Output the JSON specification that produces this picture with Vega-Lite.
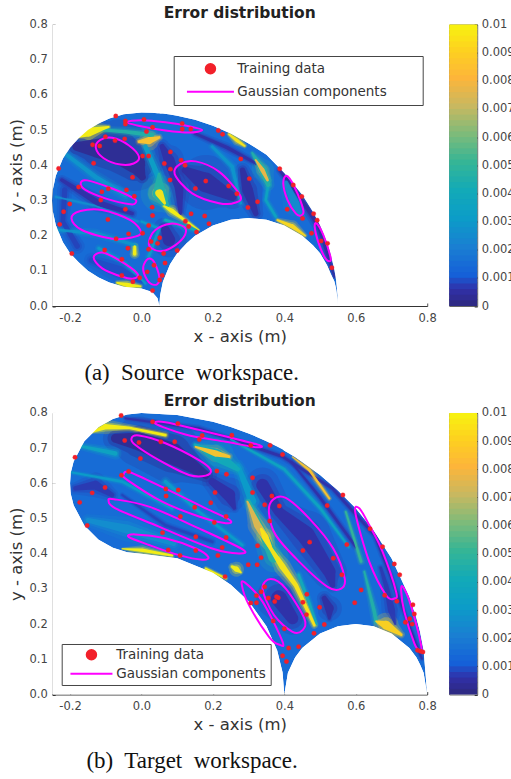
{"$schema":"https://vega.github.io/schema/vega-lite/v6.json","background":"white","padding":{"left":8.2,"top":5.5,"right":0,"bottom":0},
"config":{"font":"DejaVu Sans","view":{"stroke":null},"axis":{"grid":false,"domainColor":"#333","tickColor":"#333","labelColor":"#444","titleColor":"#333","labelFontSize":11.5,"titleFontSize":16.5,"titleFontWeight":"normal","tickSize":-3,"labelPadding":8,"zindex":1,"labelFlush":false}},
"datasets":{
"cb":[{"v":0,"b":0.00025},{"v":0.0002,"b":0.00045},{"v":0.0004,"b":0.00065},{"v":0.0006,"b":0.00085},{"v":0.0008,"b":0.00105},{"v":0.001,"b":0.00125},{"v":0.0012,"b":0.00145},{"v":0.0014,"b":0.00165},{"v":0.0016,"b":0.00185},{"v":0.0018,"b":0.00205},{"v":0.002,"b":0.00225},{"v":0.0022,"b":0.00245},{"v":0.0024,"b":0.00265},{"v":0.0026,"b":0.00285},{"v":0.0028,"b":0.00305},{"v":0.003,"b":0.00325},{"v":0.0032,"b":0.00345},{"v":0.0034,"b":0.00365},{"v":0.0036,"b":0.00385},{"v":0.0038,"b":0.00405},{"v":0.004,"b":0.00425},{"v":0.0042,"b":0.00445},{"v":0.0044,"b":0.00465},{"v":0.0046,"b":0.00485},{"v":0.0048,"b":0.00505},{"v":0.005,"b":0.00525},{"v":0.0052,"b":0.00545},{"v":0.0054,"b":0.00565},{"v":0.0056,"b":0.00585},{"v":0.0058,"b":0.00605},{"v":0.006,"b":0.00625},{"v":0.0062,"b":0.00645},{"v":0.0064,"b":0.00665},{"v":0.0066,"b":0.00685},{"v":0.0068,"b":0.00705},{"v":0.007,"b":0.00725},{"v":0.0072,"b":0.00745},{"v":0.0074,"b":0.00765},{"v":0.0076,"b":0.00785},{"v":0.0078,"b":0.00805},{"v":0.008,"b":0.00825},{"v":0.0082,"b":0.00845},{"v":0.0084,"b":0.00865},{"v":0.0086,"b":0.00885},{"v":0.0088,"b":0.00905},{"v":0.009,"b":0.00925},{"v":0.0092,"b":0.00945},{"v":0.0094,"b":0.00965},{"v":0.0096,"b":0.00985},{"v":0.0098,"b":0.01}],
"o1":[{"x":-0.25,"y":0.3,"y2":0.3,"v":0.0014},{"x":-0.248,"y":0.332,"y2":0.268,"v":0.0014},{"x":-0.24,"y":0.37,"y2":0.23,"v":0.0014},{"x":-0.22,"y":0.419,"y2":0.181,"v":0.0014},{"x":-0.2,"y":0.45,"y2":0.15,"v":0.0014},{"x":-0.176,"y":0.477,"y2":0.124,"v":0.0014},{"x":-0.15,"y":0.5,"y2":0.1,"v":0.0014},{"x":-0.12,"y":0.519,"y2":0.081,"v":0.0014},{"x":-0.09,"y":0.533,"y2":0.067,"v":0.0014},{"x":-0.05,"y":0.545,"y2":0.055,"v":0.0014},{"x":0,"y":0.55,"y2":0.05,"v":0.0014},{"x":0.03,"y":0.549,"y2":0.04,"v":0.0014},{"x":0.045,"y":0.548,"y2":0.022,"v":0.0014},{"x":0.05,"y":0.548,"y2":0,"v":0.0014},{"x":0.052,"y":0.547,"y2":0.03,"v":0.0014},{"x":0.06,"y":0.547,"y2":0.069,"v":0.0014},{"x":0.08,"y":0.544,"y2":0.119,"v":0.0014},{"x":0.1,"y":0.541,"y2":0.15,"v":0.0014},{"x":0.125,"y":0.535,"y2":0.177,"v":0.0014},{"x":0.15,"y":0.529,"y2":0.2,"v":0.0014},{"x":0.2,"y":0.512,"y2":0.229,"v":0.0014},{"x":0.25,"y":0.49,"y2":0.245,"v":0.0014},{"x":0.3,"y":0.462,"y2":0.25,"v":0.0014},{"x":0.35,"y":0.43,"y2":0.245,"v":0.0014},{"x":0.4,"y":0.378,"y2":0.229,"v":0.0014},{"x":0.45,"y":0.316,"y2":0.2,"v":0.0014},{"x":0.48,"y":0.268,"y2":0.173,"v":0.0014},{"x":0.5,"y":0.229,"y2":0.15,"v":0.0014},{"x":0.52,"y":0.18,"y2":0.115,"v":0.0014},{"x":0.53,"y":0.147,"y2":0.092,"v":0.0014},{"x":0.54,"y":0.104,"y2":0.07,"v":0.0014},{"x":0.545,"y":0.074,"y2":0.049,"v":0.0014},{"x":0.549,"y":0.033,"y2":0.018,"v":0.0014},{"x":0.55,"y":0,"y2":0,"v":0.0014},{"x":0.8,"y":0,"y2":0,"v":0.0014}],
"t1":[
{"s":"d1","x":-0.181,"y":0.453,"w":10,"v":0.0002},{"s":"d1","x":-0.12,"y":0.448,"w":22,"v":0.0002},{"s":"d1","x":-0.064,"y":0.438,"w":26,"v":0.0002},{"s":"d1","x":-0.017,"y":0.405,"w":22,"v":0.0002},{"s":"d1","x":0.002,"y":0.367,"w":8,"v":0.0002},
{"s":"d2","x":0.123,"y":0.386,"w":8,"v":0.0004},{"s":"d2","x":0.18,"y":0.351,"w":22,"v":0.0004},{"s":"d2","x":0.254,"y":0.311,"w":10,"v":0.0004},
{"s":"d3","x":0.058,"y":0.453,"w":6,"v":0.0005},{"s":"d3","x":0.077,"y":0.415,"w":12,"v":0.0005},{"s":"d3","x":0.105,"y":0.339,"w":10,"v":0.0005},{"s":"d3","x":0.109,"y":0.263,"w":4,"v":0.0005},
{"s":"d4","x":0.283,"y":0.386,"w":6,"v":0.0004},{"s":"d4","x":0.297,"y":0.33,"w":12,"v":0.0004},{"s":"d4","x":0.32,"y":0.263,"w":6,"v":0.0004},
{"s":"d5","x":-0.223,"y":0.358,"w":4,"v":0.0005},{"s":"d5","x":-0.12,"y":0.292,"w":7,"v":0.0005},{"s":"d5","x":-0.026,"y":0.263,"w":4,"v":0.0005},
{"s":"d6","x":0.067,"y":0.216,"w":10,"v":0.0004},{"s":"d6","x":0.077,"y":0.188,"w":14,"v":0.0004},
{"s":"d7","x":0.387,"y":0.386,"w":3,"v":0.0004},{"s":"d7","x":0.442,"y":0.311,"w":4,"v":0.0004},{"s":"d7","x":0.498,"y":0.225,"w":5,"v":0.0004},{"s":"d7","x":0.54,"y":0.083,"w":2,"v":0.0004},
{"s":"d8","x":-0.215,"y":0.33,"w":6,"v":0.0007},{"s":"d8","x":-0.22,"y":0.24,"w":5,"v":0.0007},{"s":"d8","x":-0.18,"y":0.17,"w":6,"v":0.0007},
{"s":"d9","x":-0.14,"y":0.13,"w":6,"v":0.0008},{"s":"d9","x":-0.06,"y":0.1,"w":10,"v":0.0008},{"s":"d9","x":0,"y":0.07,"w":3,"v":0.0008},
{"s":"d10","x":0.15,"y":0.49,"w":3,"v":0.0005},{"s":"d10","x":0.24,"y":0.45,"w":4,"v":0.0005},{"s":"d10","x":0.33,"y":0.4,"w":3,"v":0.0005},
{"s":"c1","x":-0.209,"y":0.429,"w":4,"v":0.0028},{"s":"c1","x":-0.129,"y":0.367,"w":5,"v":0.0028},{"s":"c1","x":-0.045,"y":0.315,"w":5,"v":0.0028},{"s":"c1","x":0.021,"y":0.273,"w":4,"v":0.0035},
{"s":"c2","x":-0.232,"y":0.216,"w":3,"v":0.0028},{"s":"c2","x":-0.129,"y":0.206,"w":4,"v":0.0028},{"s":"c2","x":-0.017,"y":0.173,"w":3,"v":0.0028},
{"s":"c3","x":-0.12,"y":0.164,"w":3,"v":0.003},{"s":"c3","x":-0.045,"y":0.121,"w":3,"v":0.003},{"s":"c3","x":0.011,"y":0.064,"w":2,"v":0.003},
{"s":"c4","x":0.011,"y":0.453,"w":5,"v":0.0032},{"s":"c4","x":0.039,"y":0.386,"w":6,"v":0.0032},{"s":"c4","x":0.067,"y":0.311,"w":4,"v":0.0032},
{"s":"c5","x":0.198,"y":0.453,"w":3,"v":0.0028},{"s":"c5","x":0.254,"y":0.396,"w":4,"v":0.0028},{"s":"c5","x":0.278,"y":0.292,"w":3,"v":0.0028},
{"s":"c6","x":0.067,"y":0.244,"w":3,"v":0.004},{"s":"c6","x":0.152,"y":0.216,"w":3,"v":0.004},
{"s":"c7","x":0.357,"y":0.358,"w":3,"v":0.0035},{"s":"c7","x":0.348,"y":0.301,"w":3,"v":0.0035},{"s":"c7","x":0.376,"y":0.254,"w":3,"v":0.0035},
{"s":"c8","x":0.405,"y":0.35,"w":5,"v":0.0024},{"s":"c8","x":0.43,"y":0.29,"w":10,"v":0.0024},{"s":"c8","x":0.445,"y":0.26,"w":4,"v":0.0024},
{"s":"c9","x":-0.24,"y":0.31,"w":2,"v":0.0025},{"s":"c9","x":-0.13,"y":0.285,"w":2,"v":0.0025},{"s":"c9","x":-0.01,"y":0.24,"w":2,"v":0.0025},
{"s":"c10","x":0,"y":0.24,"w":2,"v":0.003},{"s":"c10","x":0.05,"y":0.22,"w":3,"v":0.003},{"s":"c10","x":0.02,"y":0.14,"w":3,"v":0.003},
{"s":"t1","x":-0.129,"y":0.502,"w":3,"v":0.0045},{"s":"t1","x":-0.045,"y":0.495,"w":4,"v":0.0045},{"s":"t1","x":0.03,"y":0.486,"w":5,"v":0.0045},{"s":"t1","x":0.123,"y":0.49,"w":3,"v":0.0035},
{"s":"t2","x":0.049,"y":0.375,"w":3,"v":0.0045},{"s":"t2","x":0.05,"y":0.32,"w":15,"v":0.0045},{"s":"t2","x":0.07,"y":0.285,"w":6,"v":0.0045},
{"s":"t3","x":0.31,"y":0.435,"w":2,"v":0.0045},{"s":"t3","x":0.34,"y":0.386,"w":9,"v":0.0045},{"s":"t3","x":0.355,"y":0.345,"w":5,"v":0.0045},
{"s":"y1","x":-0.176,"y":0.479,"w":1,"v":0.0098},{"s":"y1","x":-0.148,"y":0.494,"w":10,"v":0.0098},{"s":"y1","x":-0.092,"y":0.509,"w":2,"v":0.0098},
{"s":"y2","x":-0.007,"y":0.467,"w":3,"v":0.0085},{"s":"y2","x":0.021,"y":0.47,"w":8,"v":0.0085},{"s":"y2","x":0.049,"y":0.479,"w":3,"v":0.0085},
{"s":"y3","x":0.049,"y":0.353,"w":5,"v":0.0078},{"s":"y3","x":0.05,"y":0.32,"w":9,"v":0.0095},{"s":"y3","x":0.065,"y":0.292,"w":3,"v":0.0095},
{"s":"y4","x":0.063,"y":0.284,"w":2,"v":0.0098},{"s":"y4","x":0.086,"y":0.27,"w":5,"v":0.0098},{"s":"y4","x":0.114,"y":0.249,"w":3,"v":0.0098},{"s":"y4","x":0.161,"y":0.216,"w":1,"v":0.0098},
{"s":"y5","x":0.245,"y":0.488,"w":2,"v":0.0095},{"s":"y5","x":0.268,"y":0.47,"w":4,"v":0.0095},{"s":"y5","x":0.289,"y":0.455,"w":2,"v":0.0095},
{"s":"y6","x":0.32,"y":0.415,"w":2,"v":0.0078},{"s":"y6","x":0.339,"y":0.386,"w":5,"v":0.0078},{"s":"y6","x":0.353,"y":0.358,"w":3,"v":0.0078},
{"s":"y7","x":0.381,"y":0.244,"w":2,"v":0.0092},{"s":"y7","x":0.423,"y":0.226,"w":5,"v":0.0092},{"s":"y7","x":0.458,"y":0.2,"w":2,"v":0.0092},
{"s":"y8","x":-0.068,"y":0.066,"w":2,"v":0.0098},{"s":"y8","x":-0.04,"y":0.06,"w":5,"v":0.0098},{"s":"y8","x":-0.003,"y":0.056,"w":2,"v":0.0098},
{"s":"y9","x":-0.019,"y":0.169,"w":3,"v":0.0098},{"s":"y9","x":-0.019,"y":0.148,"w":4,"v":0.0098},
{"s":"y10","x":0.538,"y":0.074,"w":1,"v":0.0085},{"s":"y10","x":0.549,"y":0.017,"w":2,"v":0.0095}],
"e1":[
{"c":"e1","x":-0.042,"y":0.523},{"c":"e1","x":0.002,"y":0.528},{"c":"e1","x":0.067,"y":0.522},{"c":"e1","x":0.133,"y":0.511},{"c":"e1","x":0.17,"y":0.5},{"c":"e1","x":0.133,"y":0.493},{"c":"e1","x":0.067,"y":0.499},{"c":"e1","x":0.002,"y":0.51},
{"c":"e2","x":-0.128,"y":0.45},{"c":"e2","x":-0.115,"y":0.472},{"c":"e2","x":-0.082,"y":0.478},{"c":"e2","x":-0.036,"y":0.457},{"c":"e2","x":-0.007,"y":0.424},{"c":"e2","x":-0.022,"y":0.405},{"c":"e2","x":-0.059,"y":0.402},{"c":"e2","x":-0.106,"y":0.42},
{"c":"e3","x":0.093,"y":0.375},{"c":"e3","x":0.109,"y":0.404},{"c":"e3","x":0.152,"y":0.411},{"c":"e3","x":0.217,"y":0.382},{"c":"e3","x":0.276,"y":0.315},{"c":"e3","x":0.264,"y":0.294},{"c":"e3","x":0.217,"y":0.292},{"c":"e3","x":0.142,"y":0.32},
{"c":"e4","x":0.397,"y":0.348},{"c":"e4","x":0.406,"y":0.37},{"c":"e4","x":0.428,"y":0.339},{"c":"e4","x":0.453,"y":0.273},{"c":"e4","x":0.446,"y":0.257},{"c":"e4","x":0.432,"y":0.263},{"c":"e4","x":0.409,"y":0.301},
{"c":"e5","x":0.485,"y":0.225},{"c":"e5","x":0.49,"y":0.235},{"c":"e5","x":0.509,"y":0.202},{"c":"e5","x":0.529,"y":0.14},{"c":"e5","x":0.526,"y":0.127},{"c":"e5","x":0.512,"y":0.14},{"c":"e5","x":0.493,"y":0.188},
{"c":"e6","x":-0.17,"y":0.35},{"c":"e6","x":-0.152,"y":0.357},{"c":"e6","x":-0.082,"y":0.334},{"c":"e6","x":-0.022,"y":0.306},{"c":"e6","x":-0.016,"y":0.294},{"c":"e6","x":-0.031,"y":0.289},{"c":"e6","x":-0.101,"y":0.306},{"c":"e6","x":-0.157,"y":0.33},
{"c":"e7","x":-0.196,"y":0.249},{"c":"e7","x":-0.171,"y":0.27},{"c":"e7","x":-0.11,"y":0.273},{"c":"e7","x":-0.031,"y":0.244},{"c":"e7","x":-0.001,"y":0.209},{"c":"e7","x":-0.026,"y":0.195},{"c":"e7","x":-0.082,"y":0.191},{"c":"e7","x":-0.167,"y":0.216},
{"c":"e8","x":0.021,"y":0.183},{"c":"e8","x":0.039,"y":0.216},{"c":"e8","x":0.081,"y":0.234},{"c":"e8","x":0.119,"y":0.225},{"c":"e8","x":0.122,"y":0.202},{"c":"e8","x":0.095,"y":0.173},{"c":"e8","x":0.058,"y":0.156},{"c":"e8","x":0.028,"y":0.164},
{"c":"e9","x":-0.134,"y":0.138},{"c":"e9","x":-0.11,"y":0.152},{"c":"e9","x":-0.064,"y":0.131},{"c":"e9","x":-0.012,"y":0.093},{"c":"e9","x":-0.022,"y":0.078},{"c":"e9","x":-0.054,"y":0.083},{"c":"e9","x":-0.11,"y":0.107},
{"c":"e10","x":0.005,"y":0.112},{"c":"e10","x":0.018,"y":0.134},{"c":"e10","x":0.035,"y":0.126},{"c":"e10","x":0.05,"y":0.083},{"c":"e10","x":0.044,"y":0.062},{"c":"e10","x":0.025,"y":0.064},{"c":"e10","x":0.009,"y":0.088}],
"p1":[{"x":-0.072,"y":0.54},{"x":-0.045,"y":0.526},{"x":-0.045,"y":0.517},{"x":0.007,"y":0.53},{"x":0.114,"y":0.519},{"x":0.031,"y":0.508},{"x":0.114,"y":0.503},{"x":0.138,"y":0.503},{"x":0.014,"y":0.496},{"x":0.215,"y":0.499},{"x":0.227,"y":0.488},{"x":-0.101,"y":0.481},{"x":-0.047,"y":0.475},{"x":-0.074,"y":0.47},{"x":-0.137,"y":0.458},{"x":-0.117,"y":0.455},{"x":0.003,"y":0.426},{"x":0.02,"y":0.426},{"x":0.081,"y":0.438},{"x":0.111,"y":0.414},{"x":0.122,"y":0.4},{"x":0.064,"y":0.405},{"x":0.081,"y":0.389},{"x":0.08,"y":0.358},{"x":-0.134,"y":0.406},{"x":-0.232,"y":0.391},{"x":-0.025,"y":0.366},{"x":0.278,"y":0.418},{"x":0.302,"y":0.362},{"x":0.387,"y":0.39},{"x":0.425,"y":0.344},{"x":0.449,"y":0.311},{"x":0.18,"y":0.355},{"x":0.151,"y":0.334},{"x":0.244,"y":0.341},{"x":0.267,"y":0.319},{"x":0.325,"y":0.296},{"x":0.298,"y":0.28},{"x":0.408,"y":0.275},{"x":0.451,"y":0.249},{"x":0.482,"y":0.262},{"x":0.492,"y":0.244},{"x":0.476,"y":0.207},{"x":0.503,"y":0.185},{"x":0.521,"y":0.178},{"x":0.533,"y":0.109},{"x":-0.176,"y":0.338},{"x":-0.111,"y":0.325},{"x":-0.093,"y":0.333},{"x":-0.042,"y":0.33},{"x":-0.02,"y":0.312},{"x":-0.114,"y":0.301},{"x":-0.201,"y":0.29},{"x":-0.218,"y":0.268},{"x":-0.045,"y":0.275},{"x":0.03,"y":0.281},{"x":0.031,"y":0.257},{"x":0.139,"y":0.262},{"x":0.177,"y":0.256},{"x":0.189,"y":0.234},{"x":0.123,"y":0.241},{"x":0.132,"y":0.226},{"x":0.154,"y":0.21},{"x":-0.094,"y":0.246},{"x":-0.229,"y":0.232},{"x":0.02,"y":0.229},{"x":-0.036,"y":0.205},{"x":0.003,"y":0.207},{"x":-0.071,"y":0.191},{"x":0.051,"y":0.194},{"x":0.045,"y":0.178},{"x":0.027,"y":0.183},{"x":0.02,"y":0.161},{"x":-0.103,"y":0.159},{"x":-0.038,"y":0.164},{"x":-0.195,"y":0.149},{"x":0.062,"y":0.149},{"x":0.1,"y":0.158},{"x":0.035,"y":0.116},{"x":0.066,"y":0.122},{"x":-0.055,"y":0.133},{"x":0.016,"y":0.097},{"x":0.058,"y":0.087},{"x":-0.055,"y":0.087},{"x":-0.005,"y":0.08},{"x":-0.024,"y":0.069},{"x":0.051,"y":0.074},{"x":0.031,"y":0.044}],
"o2":[{"x":-0.25,"y":0.6,"y2":0.6,"v":0.0014},{"x":-0.2,"y":0.6,"y2":0.6,"v":0.0014},{"x":-0.198,"y":0.63,"y2":0.57,"v":0.0014},{"x":-0.19,"y":0.662,"y2":0.538,"v":0.0014},{"x":-0.16,"y":0.72,"y2":0.48,"v":0.0014},{"x":-0.12,"y":0.76,"y2":0.44,"v":0.0014},{"x":-0.08,"y":0.783,"y2":0.417,"v":0.0014},{"x":-0.04,"y":0.796,"y2":0.404,"v":0.0014},{"x":0,"y":0.8,"y2":0.4,"v":0.0014},{"x":0.1,"y":0.794,"y2":0.387,"v":0.0014},{"x":0.2,"y":0.775,"y2":0.346,"v":0.0014},{"x":0.25,"y":0.76,"y2":0.312,"v":0.0014},{"x":0.3,"y":0.742,"y2":0.265,"v":0.0014},{"x":0.35,"y":0.72,"y2":0.194,"v":0.0014},{"x":0.38,"y":0.705,"y2":0.125,"v":0.0014},{"x":0.395,"y":0.697,"y2":0.063,"v":0.0014},{"x":0.4,"y":0.693,"y2":0,"v":0.0014},{"x":0.41,"y":0.687,"y2":0.062,"v":0.0014},{"x":0.43,"y":0.675,"y2":0.105,"v":0.0014},{"x":0.45,"y":0.661,"y2":0.132,"v":0.0014},{"x":0.5,"y":0.624,"y2":0.173,"v":0.0014},{"x":0.55,"y":0.58,"y2":0.194,"v":0.0014},{"x":0.6,"y":0.529,"y2":0.2,"v":0.0014},{"x":0.65,"y":0.466,"y2":0.194,"v":0.0014},{"x":0.7,"y":0.387,"y2":0.173,"v":0.0014},{"x":0.75,"y":0.278,"y2":0.132,"v":0.0014},{"x":0.77,"y":0.217,"y2":0.105,"v":0.0014},{"x":0.78,"y":0.178,"y2":0.085,"v":0.0014},{"x":0.79,"y":0.126,"y2":0.062,"v":0.0014},{"x":0.8,"y":0,"y2":0,"v":0.0014}],
"t2":[
{"s":"d1","x":-0.073,"y":0.728,"w":10,"v":0.0002},{"s":"d1","x":-0.007,"y":0.719,"w":20,"v":0.0002},{"s":"d1","x":0.086,"y":0.685,"w":24,"v":0.0002},{"s":"d1","x":0.18,"y":0.624,"w":9,"v":0.0002},
{"s":"d2","x":0.198,"y":0.605,"w":8,"v":0.0005},{"s":"d2","x":0.245,"y":0.567,"w":14,"v":0.0005},{"s":"d2","x":0.26,"y":0.53,"w":4,"v":0.0005},
{"s":"d3","x":0.339,"y":0.595,"w":14,"v":0.0005},{"s":"d3","x":0.385,"y":0.519,"w":11,"v":0.0005},{"s":"d3","x":0.46,"y":0.453,"w":20,"v":0.0005},{"s":"d3","x":0.526,"y":0.349,"w":14,"v":0.0005},{"s":"d3","x":0.535,"y":0.311,"w":6,"v":0.0005},
{"s":"d4","x":0.385,"y":0.273,"w":18,"v":0.0005},{"s":"d4","x":0.423,"y":0.216,"w":13,"v":0.0005},
{"s":"d5","x":0.512,"y":0.273,"w":6,"v":0.0004},{"s":"d5","x":0.526,"y":0.245,"w":10,"v":0.0004},{"s":"d5","x":0.526,"y":0.216,"w":3,"v":0.0004},
{"s":"d6","x":-0.045,"y":0.785,"w":2,"v":0.0005},{"s":"d6","x":0.161,"y":0.756,"w":3,"v":0.0005},{"s":"d6","x":0.395,"y":0.676,"w":3,"v":0.0005},{"s":"d6","x":0.535,"y":0.585,"w":3,"v":0.0005},{"s":"d6","x":0.655,"y":0.45,"w":3,"v":0.0005},{"s":"d6","x":0.785,"y":0.102,"w":2,"v":0.0005},
{"s":"d7","x":-0.185,"y":0.586,"w":5,"v":0.0006},{"s":"d7","x":-0.129,"y":0.595,"w":10,"v":0.0006},{"s":"d7","x":-0.082,"y":0.567,"w":5,"v":0.0006},
{"s":"d8","x":-0.054,"y":0.567,"w":2,"v":0.0007},{"s":"d8","x":0.067,"y":0.481,"w":3,"v":0.0007},{"s":"d8","x":0.198,"y":0.434,"w":3,"v":0.0007},
{"s":"d9","x":0.67,"y":0.36,"w":3,"v":0.0006},{"s":"d9","x":0.685,"y":0.309,"w":5,"v":0.0006},{"s":"d9","x":0.7,"y":0.24,"w":8,"v":0.0006},{"s":"d9","x":0.71,"y":0.2,"w":2,"v":0.0006},
{"s":"d10","x":0.42,"y":0.66,"w":2,"v":0.0005},{"s":"d10","x":0.5,"y":0.56,"w":3,"v":0.0005},{"s":"d10","x":0.6,"y":0.42,"w":3,"v":0.0005},
{"s":"c1","x":-0.176,"y":0.707,"w":3,"v":0.0035},{"s":"c1","x":-0.073,"y":0.685,"w":5,"v":0.0035},{"s":"c1","x":0.067,"y":0.605,"w":4,"v":0.003},{"s":"c1","x":0.161,"y":0.519,"w":3,"v":0.003},{"s":"c1","x":0.282,"y":0.425,"w":3,"v":0.003},
{"s":"c2","x":-0.195,"y":0.631,"w":2,"v":0.003},{"s":"c2","x":-0.054,"y":0.605,"w":3,"v":0.003},{"s":"c2","x":0.086,"y":0.529,"w":3,"v":0.003},{"s":"c2","x":0.198,"y":0.425,"w":3,"v":0.0035},{"s":"c2","x":0.254,"y":0.368,"w":3,"v":0.004},
{"s":"c3","x":-0.15,"y":0.495,"w":5,"v":0.0025},{"s":"c3","x":-0.04,"y":0.47,"w":10,"v":0.0025},{"s":"c3","x":0.09,"y":0.43,"w":6,"v":0.0025},
{"s":"c4","x":0.27,"y":0.65,"w":5,"v":0.003},{"s":"c4","x":0.31,"y":0.55,"w":9,"v":0.003},{"s":"c4","x":0.36,"y":0.47,"w":9,"v":0.0035},
{"s":"c5","x":0.44,"y":0.34,"w":3,"v":0.004},{"s":"c5","x":0.47,"y":0.26,"w":3,"v":0.004},{"s":"c5","x":0.49,"y":0.2,"w":2,"v":0.004},
{"s":"c6","x":0.25,"y":0.725,"w":2,"v":0.0035},{"s":"c6","x":0.4,"y":0.64,"w":3,"v":0.0035},{"s":"c6","x":0.5,"y":0.53,"w":3,"v":0.0035},{"s":"c6","x":0.58,"y":0.42,"w":2,"v":0.0035},
{"s":"t1","x":0.572,"y":0.519,"w":2,"v":0.005},{"s":"t1","x":0.591,"y":0.463,"w":3,"v":0.0075},{"s":"t1","x":0.615,"y":0.378,"w":3,"v":0.005},{"s":"t1","x":0.629,"y":0.311,"w":2,"v":0.004},
{"s":"t2","x":0.624,"y":0.349,"w":2,"v":0.0045},{"s":"t2","x":0.652,"y":0.235,"w":4,"v":0.0045},{"s":"t2","x":0.657,"y":0.207,"w":4,"v":0.0045},
{"s":"t3","x":0.47,"y":0.63,"w":3,"v":0.0045},{"s":"t3","x":0.545,"y":0.52,"w":3,"v":0.005},{"s":"t3","x":0.595,"y":0.44,"w":2,"v":0.004},
{"s":"t4","x":0.15,"y":0.71,"w":3,"v":0.004},{"s":"t4","x":0.21,"y":0.68,"w":14,"v":0.004},{"s":"t4","x":0.27,"y":0.64,"w":5,"v":0.004},
{"s":"t5","x":0.3,"y":0.55,"w":4,"v":0.0045},{"s":"t5","x":0.33,"y":0.47,"w":15,"v":0.005},{"s":"t5","x":0.37,"y":0.39,"w":12,"v":0.0045},{"s":"t5","x":0.43,"y":0.31,"w":8,"v":0.004},
{"s":"y1","x":-0.141,"y":0.744,"w":1,"v":0.0098},{"s":"y1","x":-0.101,"y":0.761,"w":6,"v":0.0098},{"s":"y1","x":-0.036,"y":0.758,"w":3,"v":0.0098},{"s":"y1","x":0.067,"y":0.737,"w":3,"v":0.0098},
{"s":"y2","x":0.152,"y":0.704,"w":2,"v":0.0085},{"s":"y2","x":0.208,"y":0.685,"w":7,"v":0.0085},{"s":"y2","x":0.245,"y":0.676,"w":3,"v":0.0085},
{"s":"y3","x":0.423,"y":0.675,"w":1,"v":0.0085},{"s":"y3","x":0.47,"y":0.638,"w":3,"v":0.0085},{"s":"y3","x":0.526,"y":0.557,"w":2,"v":0.0085},
{"s":"y4","x":0.297,"y":0.548,"w":2,"v":0.0075},{"s":"y4","x":0.325,"y":0.481,"w":8,"v":0.0075},{"s":"y4","x":0.346,"y":0.448,"w":8,"v":0.0075},{"s":"y4","x":0.362,"y":0.415,"w":4,"v":0.0075},
{"s":"y5","x":0.335,"y":0.47,"w":3,"v":0.0095},{"s":"y5","x":0.346,"y":0.448,"w":7,"v":0.0095},{"s":"y5","x":0.362,"y":0.415,"w":4,"v":0.0095},{"s":"y5","x":0.395,"y":0.363,"w":7,"v":0.0095},{"s":"y5","x":0.432,"y":0.311,"w":5,"v":0.0095},{"s":"y5","x":0.484,"y":0.197,"w":3,"v":0.0095},
{"s":"y6","x":0.254,"y":0.363,"w":3,"v":0.0098},{"s":"y6","x":0.266,"y":0.356,"w":6,"v":0.0098},{"s":"y6","x":0.278,"y":0.347,"w":2,"v":0.0098},
{"s":"y7","x":-0.054,"y":0.414,"w":1,"v":0.0098},{"s":"y7","x":0.002,"y":0.41,"w":4,"v":0.0098},{"s":"y7","x":0.086,"y":0.395,"w":2,"v":0.0098},
{"s":"y8","x":0.18,"y":0.358,"w":2,"v":0.0098},{"s":"y8","x":0.236,"y":0.33,"w":2,"v":0.0098},
{"s":"y9","x":0.657,"y":0.208,"w":2,"v":0.009},{"s":"y9","x":0.685,"y":0.197,"w":10,"v":0.009},{"s":"y9","x":0.727,"y":0.17,"w":3,"v":0.009}],
"e2":[
{"c":"f1","x":0.039,"y":0.77},{"c":"f1","x":0.067,"y":0.774},{"c":"f1","x":0.161,"y":0.752},{"c":"f1","x":0.254,"y":0.729},{"c":"f1","x":0.332,"y":0.708},{"c":"f1","x":0.32,"y":0.703},{"c":"f1","x":0.236,"y":0.718},{"c":"f1","x":0.123,"y":0.739},
{"c":"f2","x":-0.028,"y":0.728},{"c":"f2","x":-0.007,"y":0.736},{"c":"f2","x":0.067,"y":0.714},{"c":"f2","x":0.161,"y":0.666},{"c":"f2","x":0.194,"y":0.638},{"c":"f2","x":0.18,"y":0.622},{"c":"f2","x":0.133,"y":0.624},{"c":"f2","x":0.049,"y":0.666},{"c":"f2","x":-0.017,"y":0.709},
{"c":"f3","x":-0.05,"y":0.625},{"c":"f3","x":-0.031,"y":0.631},{"c":"f3","x":0.067,"y":0.585},{"c":"f3","x":0.18,"y":0.529},{"c":"f3","x":0.247,"y":0.496},{"c":"f3","x":0.236,"y":0.487},{"c":"f3","x":0.161,"y":0.506},{"c":"f3","x":0.058,"y":0.548},{"c":"f3","x":-0.04,"y":0.61},
{"c":"f4","x":-0.092,"y":0.551},{"c":"f4","x":-0.077,"y":0.555},{"c":"f4","x":0.021,"y":0.534},{"c":"f4","x":0.161,"y":0.472},{"c":"f4","x":0.282,"y":0.413},{"c":"f4","x":0.273,"y":0.401},{"c":"f4","x":0.198,"y":0.415},{"c":"f4","x":0.049,"y":0.477},{"c":"f4","x":-0.073,"y":0.529},
{"c":"f5","x":-0.036,"y":0.448},{"c":"f5","x":-0.017,"y":0.455},{"c":"f5","x":0.067,"y":0.444},{"c":"f5","x":0.152,"y":0.415},{"c":"f5","x":0.187,"y":0.391},{"c":"f5","x":0.17,"y":0.383},{"c":"f5","x":0.105,"y":0.396},{"c":"f5","x":0.021,"y":0.425},
{"c":"f6","x":0.357,"y":0.515},{"c":"f6","x":0.367,"y":0.553},{"c":"f6","x":0.404,"y":0.559},{"c":"f6","x":0.47,"y":0.5},{"c":"f6","x":0.537,"y":0.415},{"c":"f6","x":0.569,"y":0.33},{"c":"f6","x":0.558,"y":0.3},{"c":"f6","x":0.521,"y":0.306},{"c":"f6","x":0.442,"y":0.377},{"c":"f6","x":0.376,"y":0.453},
{"c":"f7","x":0.599,"y":0.515},{"c":"f7","x":0.61,"y":0.529},{"c":"f7","x":0.638,"y":0.481},{"c":"f7","x":0.675,"y":0.406},{"c":"f7","x":0.713,"y":0.292},{"c":"f7","x":0.708,"y":0.273},{"c":"f7","x":0.685,"y":0.282},{"c":"f7","x":0.638,"y":0.377},
{"c":"f8","x":0.727,"y":0.296},{"c":"f8","x":0.733,"y":0.305},{"c":"f8","x":0.754,"y":0.254},{"c":"f8","x":0.783,"y":0.14},{"c":"f8","x":0.778,"y":0.126},{"c":"f8","x":0.764,"y":0.145},{"c":"f8","x":0.736,"y":0.235},
{"c":"f9","x":0.281,"y":0.311},{"c":"f9","x":0.29,"y":0.318},{"c":"f9","x":0.339,"y":0.264},{"c":"f9","x":0.395,"y":0.15},{"c":"f9","x":0.385,"y":0.142},{"c":"f9","x":0.357,"y":0.164},{"c":"f9","x":0.301,"y":0.254},
{"c":"f10","x":0.339,"y":0.301},{"c":"f10","x":0.362,"y":0.328},{"c":"f10","x":0.404,"y":0.301},{"c":"f10","x":0.456,"y":0.216},{"c":"f10","x":0.451,"y":0.183},{"c":"f10","x":0.423,"y":0.178},{"c":"f10","x":0.371,"y":0.226}],
"p2":[{"x":-0.057,"y":0.793},{"x":0.031,"y":0.775},{"x":0.102,"y":0.77},{"x":0.253,"y":0.737},{"x":0.17,"y":0.736},{"x":0.162,"y":0.725},{"x":0.306,"y":0.708},{"x":0.36,"y":0.708},{"x":0.395,"y":0.682},{"x":-0.047,"y":0.722},{"x":-0.007,"y":0.716},{"x":0.054,"y":0.718},{"x":0.093,"y":0.718},{"x":-0.003,"y":0.671},{"x":-0.186,"y":0.674},{"x":0.211,"y":0.635},{"x":0.238,"y":0.626},{"x":0.311,"y":0.616},{"x":-0.036,"y":0.634},{"x":-0.056,"y":0.623},{"x":-0.102,"y":0.588},{"x":-0.138,"y":0.573},{"x":-0.173,"y":0.546},{"x":0.068,"y":0.584},{"x":0.069,"y":0.564},{"x":0.103,"y":0.581},{"x":0.206,"y":0.574},{"x":0.311,"y":0.574},{"x":0.365,"y":0.564},{"x":0.194,"y":0.545},{"x":0.149,"y":0.532},{"x":0.345,"y":0.539},{"x":0.386,"y":0.536},{"x":0.52,"y":0.537},{"x":0.564,"y":0.567},{"x":0.109,"y":0.506},{"x":0.237,"y":0.506},{"x":0.204,"y":0.489},{"x":0.359,"y":0.493},{"x":-0.152,"y":0.48},{"x":0.64,"y":0.471},{"x":0.059,"y":0.46},{"x":0.152,"y":0.448},{"x":0.237,"y":0.446},{"x":0.471,"y":0.433},{"x":0.575,"y":0.426},{"x":0.675,"y":0.42},{"x":0.226,"y":0.418},{"x":0.325,"y":0.423},{"x":0.452,"y":0.409},{"x":0.075,"y":0.411},{"x":0.152,"y":0.409},{"x":0.108,"y":0.395},{"x":0.214,"y":0.395},{"x":0.335,"y":0.389},{"x":0.537,"y":0.387},{"x":0.299,"y":0.369},{"x":0.324,"y":0.369},{"x":0.708,"y":0.371},{"x":0.723,"y":0.34},{"x":0.561,"y":0.34},{"x":0.234,"y":0.335},{"x":0.615,"y":0.297},{"x":0.345,"y":0.306},{"x":0.335,"y":0.292},{"x":0.463,"y":0.285},{"x":0.322,"y":0.281},{"x":0.378,"y":0.278},{"x":0.383,"y":0.275},{"x":0.355,"y":0.274},{"x":0.681,"y":0.282},{"x":0.715,"y":0.265},{"x":0.597,"y":0.261},{"x":0.452,"y":0.262},{"x":0.373,"y":0.264},{"x":0.306,"y":0.26},{"x":0.322,"y":0.261},{"x":0.499,"y":0.248},{"x":0.76,"y":0.255},{"x":0.462,"y":0.227},{"x":0.764,"y":0.229},{"x":0.751,"y":0.215},{"x":0.739,"y":0.205},{"x":0.758,"y":0.2},{"x":0.512,"y":0.199},{"x":0.369,"y":0.209},{"x":0.4,"y":0.187},{"x":0.483,"y":0.174},{"x":0.412,"y":0.132},{"x":0.44,"y":0.136},{"x":0.395,"y":0.11},{"x":0.406,"y":0.094},{"x":0.773,"y":0.126},{"x":0.781,"y":0.123},{"x":0.788,"y":0.121}]
},
"spacing":8.5,
"resolve":{"legend":{"stroke":"independent"}},
"vconcat":[
{"title":{"text":"(a)\u00a0 Source\u00a0 workspace.","orient":"bottom","anchor":"start","font":"Liberation Serif","fontSize":22.8,"fontWeight":"normal","color":"#111","dx":75.5,"offset":17},
"bounds":"flush","spacing":22,"resolve":{"legend":{"stroke":"independent"}},
"hconcat":[{"title":{"text":"Error distribution","fontSize":15.5,"fontWeight":"bold","color":"#222","offset":-2.5},"width":375,"height":281.5,
"encoding":{"x":{"field":"x","type":"quantitative","title":"x - axis (m)","scale":{"domain":[-0.25,0.8],"nice":false,"zero":false},"axis":{"values":[-0.2,0,0.2,0.4,0.6,0.8],"labelPadding":9,"titlePadding":5,"labelExpr":"replace(datum.label,'−','-')"}},"y":{"field":"y","type":"quantitative","title":"y - axis (m)","scale":{"domain":[0,0.8],"nice":false},"axis":{"values":[0,0.1,0.2,0.3,0.4,0.5,0.6,0.7,0.8]}}},
"layer":[
{"encoding":{"color":{"field":"v","type":"quantitative","scale":{"interpolate":"rgb","domain":[0,0.0005,0.001,0.002,0.003,0.004,0.005,0.006,0.007,0.008,0.009,0.01],"range":["#2e2a85","#3030a8","#1560d8","#1a7fd2","#0c9cc8","#12aab8","#35b596","#7dbb7a","#c8b860","#fdb53a","#fdd21f","#f7f70e"]},"legend":null}},
"resolve":{"scale":{"size":"independent"}},
"layer":[
{"mark":{"type":"area","order":null},"data":{"name":"o1"},"encoding":{"y2":{"field":"y2"}}},
{"mark":{"type":"trail","order":null,"opacity":0.2},"data":{"name":"t1"},"encoding":{"detail":{"field":"s"},"size":{"field":"w","type":"quantitative","scale":{"domain":[0,30],"range":[0,75]},"legend":null}}},
{"mark":{"type":"trail","order":null,"opacity":0.35},"data":{"name":"t1"},"encoding":{"detail":{"field":"s"},"size":{"field":"w","type":"quantitative","scale":{"domain":[0,30],"range":[0,48]},"legend":null}}},
{"mark":{"type":"trail","order":null,"opacity":0.95},"data":{"name":"t1"},"encoding":{"detail":{"field":"s"},"size":{"field":"w","type":"quantitative","scale":{"domain":[0,30],"range":[0,27]},"legend":null}}}]},
{"mark":{"type":"area","order":null,"fill":"white"},"data":{"name":"o1"},"encoding":{"y2":{"datum":0.8}}},
{"mark":{"type":"area","order":null,"fill":"white"},"data":{"name":"o1"},"encoding":{"y":{"datum":0},"y2":{"field":"y2"}}},
{"mark":{"type":"line","order":null,"interpolate":"cardinal-closed","strokeWidth":2},"data":{"name":"e1"},"encoding":{"detail":{"field":"c"},"stroke":{"datum":"Gaussian components","scale":{"domain":["Training data","Gaussian components"],"range":["#f2202a","#ff00ff"]}}}},
{"mark":{"type":"point","filled":true,"size":20,"fill":"#f2202a","strokeWidth":0.3,"opacity":1},"data":{"name":"p1"},
"encoding":{"stroke":{"datum":"Training data","scale":{"domain":["Training data","Gaussian components"],"range":["#f2202a","#ff00ff"]},"legend":{"title":null,"orient":"none","legendX":121.5,"legendY":31.5,"strokeColor":"#444","padding":6,"fillColor":"white","symbolSize":100,"symbolOffset":24,"rowPadding":6,"labelOffset":20,"labelLimit":220,"labelFontSize":13.5,"labelColor":"#333","labelExpr":"datum.label=='Gaussian components'?datum.label+'\u2800\u2800\u2800':datum.label","encoding":{"symbols":{"shape":{"value":{"expr":"datum.value=='Training data'?'circle':'M-4.7,0H4.7'"}},"size":{"value":{"expr":"datum.value=='Training data'?90:100"}},"fill":{"value":{"expr":"datum.value=='Training data'?'#f2202a':'transparent'"}},"strokeWidth":{"value":2}}}}}}}
]},
{"width":28,"height":281.5,"view":{"stroke":"#666"},"data":{"name":"cb"},"mark":"rect","encoding":{"y":{"field":"v","type":"quantitative","title":null,"scale":{"domain":[0,0.01],"nice":false},"axis":{"orient":"right","domain":false,"values":[0,0.001,0.002,0.003,0.004,0.005,0.006,0.007,0.008,0.009,0.01],"format":".3~f","labelPadding":7}},"y2":{"field":"b"},"color":{"field":"v","type":"quantitative","scale":{"interpolate":"rgb","domain":[0,0.0005,0.001,0.002,0.003,0.004,0.005,0.006,0.007,0.008,0.009,0.01],"range":["#2e2a85","#3030a8","#1560d8","#1a7fd2","#0c9cc8","#12aab8","#35b596","#7dbb7a","#c8b860","#fdb53a","#fdd21f","#f7f70e"]},"legend":null}}}
]},
{"title":{"text":"(b)\u00a0 Target\u00a0 workspace.","orient":"bottom","anchor":"start","font":"Liberation Serif","fontSize":23,"fontWeight":"normal","color":"#111","dx":77.5,"offset":17},
"bounds":"flush","spacing":22,"resolve":{"legend":{"stroke":"independent"}},
"hconcat":[{"title":{"text":"Error distribution","fontSize":15.5,"fontWeight":"bold","color":"#222","offset":-2.5},"width":375,"height":281.5,
"encoding":{"x":{"field":"x","type":"quantitative","title":"x - axis (m)","scale":{"domain":[-0.25,0.8],"nice":false,"zero":false},"axis":{"values":[-0.2,0,0.2,0.4,0.6,0.8],"labelPadding":9,"titlePadding":5,"labelExpr":"replace(datum.label,'−','-')"}},"y":{"field":"y","type":"quantitative","title":"y - axis (m)","scale":{"domain":[0,0.8],"nice":false},"axis":{"values":[0,0.1,0.2,0.3,0.4,0.5,0.6,0.7,0.8]}}},
"layer":[
{"encoding":{"color":{"field":"v","type":"quantitative","scale":{"interpolate":"rgb","domain":[0,0.0005,0.001,0.002,0.003,0.004,0.005,0.006,0.007,0.008,0.009,0.01],"range":["#2e2a85","#3030a8","#1560d8","#1a7fd2","#0c9cc8","#12aab8","#35b596","#7dbb7a","#c8b860","#fdb53a","#fdd21f","#f7f70e"]},"legend":null}},
"resolve":{"scale":{"size":"independent"}},
"layer":[
{"mark":{"type":"area","order":null},"data":{"name":"o2"},"encoding":{"y2":{"field":"y2"}}},
{"mark":{"type":"trail","order":null,"opacity":0.2},"data":{"name":"t2"},"encoding":{"detail":{"field":"s"},"size":{"field":"w","type":"quantitative","scale":{"domain":[0,30],"range":[0,75]},"legend":null}}},
{"mark":{"type":"trail","order":null,"opacity":0.35},"data":{"name":"t2"},"encoding":{"detail":{"field":"s"},"size":{"field":"w","type":"quantitative","scale":{"domain":[0,30],"range":[0,48]},"legend":null}}},
{"mark":{"type":"trail","order":null,"opacity":0.95},"data":{"name":"t2"},"encoding":{"detail":{"field":"s"},"size":{"field":"w","type":"quantitative","scale":{"domain":[0,30],"range":[0,27]},"legend":null}}}]},
{"mark":{"type":"area","order":null,"fill":"white"},"data":{"name":"o2"},"encoding":{"y2":{"datum":0.8}}},
{"mark":{"type":"area","order":null,"fill":"white"},"data":{"name":"o2"},"encoding":{"y":{"datum":0},"y2":{"field":"y2"}}},
{"mark":{"type":"line","order":null,"interpolate":"cardinal-closed","strokeWidth":2},"data":{"name":"e2"},"encoding":{"detail":{"field":"c"},"stroke":{"datum":"Gaussian components","scale":{"domain":["Training data","Gaussian components"],"range":["#f2202a","#ff00ff"]}}}},
{"mark":{"type":"point","filled":true,"size":20,"fill":"#f2202a","strokeWidth":0.3,"opacity":1},"data":{"name":"p2"},
"encoding":{"stroke":{"datum":"Training data","scale":{"domain":["Training data","Gaussian components"],"range":["#f2202a","#ff00ff"]},"legend":{"title":null,"orient":"none","legendX":9.5,"legendY":231,"strokeColor":"#444","padding":4,"fillColor":"white","symbolSize":100,"symbolOffset":19,"rowPadding":2,"labelOffset":18,"labelLimit":220,"labelFontSize":13.5,"labelColor":"#333","encoding":{"symbols":{"shape":{"value":{"expr":"datum.value=='Training data'?'circle':'M-4.2,0H4.2'"}},"size":{"value":{"expr":"datum.value=='Training data'?90:100"}},"fill":{"value":{"expr":"datum.value=='Training data'?'#f2202a':'transparent'"}},"strokeWidth":{"value":2}}}}}}}
]},
{"width":28,"height":281.5,"view":{"stroke":"#666"},"data":{"name":"cb"},"mark":"rect","encoding":{"y":{"field":"v","type":"quantitative","title":null,"scale":{"domain":[0,0.01],"nice":false},"axis":{"orient":"right","domain":false,"values":[0,0.001,0.002,0.003,0.004,0.005,0.006,0.007,0.008,0.009,0.01],"format":".3~f","labelPadding":7}},"y2":{"field":"b"},"color":{"field":"v","type":"quantitative","scale":{"interpolate":"rgb","domain":[0,0.0005,0.001,0.002,0.003,0.004,0.005,0.006,0.007,0.008,0.009,0.01],"range":["#2e2a85","#3030a8","#1560d8","#1a7fd2","#0c9cc8","#12aab8","#35b596","#7dbb7a","#c8b860","#fdb53a","#fdd21f","#f7f70e"]},"legend":null}}}
]}
]}
